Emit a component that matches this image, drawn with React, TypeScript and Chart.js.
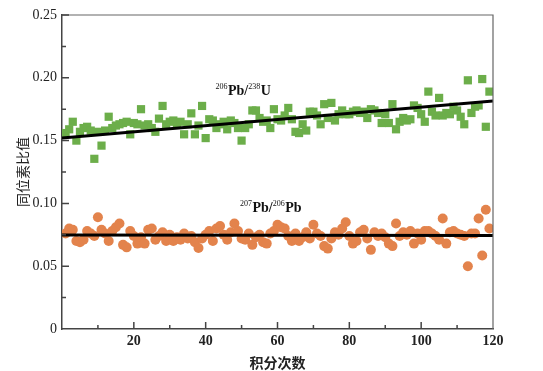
import { useEffect, useRef } from 'react';
import { Chart, registerables } from 'chart.js';
Chart.register(...registerables);

// 206Pb/238U ratio per integration (index 1..119)
const pbU = [
  0.156, 0.159, 0.165, 0.150, 0.157, 0.160, 0.161, 0.158, 0.1355, 0.157,
  0.146, 0.158, 0.169, 0.160, 0.162, 0.163, 0.164, 0.165, 0.155, 0.164,
  0.163, 0.175, 0.162, 0.163, 0.160, 0.157, 0.1675, 0.1776, 0.163, 0.165,
  0.166, 0.164, 0.165, 0.155, 0.163, 0.1717, 0.155, 0.162, 0.1776, 0.152,
  0.167, 0.166, 0.160, 0.163, 0.165, 0.159, 0.166, 0.164, 0.160, 0.150,
  0.160, 0.163, 0.174, 0.174, 0.168, 0.165, 0.166, 0.160, 0.175, 0.167,
  0.166, 0.170, 0.176, 0.167, 0.157, 0.156, 0.163, 0.158, 0.173, 0.173,
  0.170, 0.163, 0.179, 0.168, 0.180, 0.166, 0.171, 0.174, 0.171, 0.171,
  0.173, 0.174, 0.172, 0.173, 0.168, 0.175, 0.174, 0.172, 0.164, 0.171,
  0.164, 0.179, 0.159, 0.165, 0.168, 0.166, 0.167, 0.178, 0.176, 0.171,
  0.165, 0.189, 0.173, 0.170, 0.184, 0.170, 0.172, 0.171, 0.177, 0.174,
  0.169, 0.163, 0.198, 0.172, 0.177, 0.178, 0.199, 0.161, 0.189,
];

// 207Pb/206Pb ratio per integration (index 1..119)
const pbPb = [
  0.076, 0.080, 0.079, 0.070, 0.069, 0.071, 0.078, 0.076, 0.074, 0.089,
  0.079, 0.076, 0.070, 0.078, 0.081, 0.084, 0.067, 0.065, 0.078, 0.074,
  0.068, 0.073, 0.068, 0.079, 0.080, 0.071, 0.074, 0.077, 0.070, 0.075,
  0.070, 0.073, 0.071, 0.076, 0.072, 0.074, 0.069, 0.0645, 0.072, 0.075,
  0.078, 0.070, 0.080, 0.082, 0.075, 0.071, 0.077, 0.084, 0.078, 0.072,
  0.071, 0.076, 0.067, 0.073, 0.075, 0.069, 0.068, 0.076, 0.078, 0.083,
  0.081, 0.080, 0.074, 0.070, 0.076, 0.070, 0.073, 0.077, 0.072, 0.083,
  0.076, 0.074, 0.066, 0.064, 0.072, 0.077, 0.075, 0.080, 0.085, 0.074,
  0.068, 0.070, 0.077, 0.079, 0.072, 0.063, 0.077, 0.074, 0.076, 0.073,
  0.068, 0.066, 0.084, 0.074, 0.077, 0.075, 0.078, 0.068, 0.076, 0.071,
  0.078, 0.078, 0.076, 0.074, 0.071, 0.088, 0.068, 0.077, 0.078, 0.076,
  0.075, 0.074, 0.050, 0.076, 0.076, 0.088, 0.0585, 0.095, 0.080,
];

// fitted trend lines: [x, y] end points
const pbUTrend = [
  { x: 0, y: 0.152 },
  { x: 120, y: 0.1815 },
];
const pbPbTrend = [
  { x: 0, y: 0.0749 },
  { x: 120, y: 0.0745 },
];

const xTicks = [20, 40, 60, 80, 100, 120];
const xMinorTicks = [10, 20, 30, 40, 50, 60, 70, 80, 90, 100, 110];
const yTicks = [0, 0.05, 0.1, 0.15, 0.2, 0.25];
const yMinorTicks = [0.025, 0.05, 0.075, 0.1, 0.125, 0.15, 0.175, 0.2, 0.225];

const GREEN = '#6cae4a';
const ORANGE = '#e3834c';
const AXIS = '#444';
const SERIF = '"Liberation Serif", "DejaVu Serif", serif';
const CJK = '"Noto Sans CJK SC", sans-serif';

const labels = [
  { x: 215.5, y: 95, parts: [['206', true], ['Pb/', false], ['238', true], ['U', false]] },
  { x: 240, y: 211.5, parts: [['207', true], ['Pb/', false], ['206', true], ['Pb', false]] },
];

const decor = {
  id: 'decor',
  afterDatasetsDraw(chart: any) {
    const { ctx, chartArea, scales } = chart;
    const { left, right, top, bottom } = chartArea;
    ctx.save();
    // top and right frame
    ctx.strokeStyle = '#666';
    ctx.lineWidth = 1.2;
    ctx.beginPath();
    ctx.moveTo(left, top);
    ctx.lineTo(right, top);
    ctx.lineTo(right, bottom);
    ctx.stroke();
    // inward ticks
    ctx.strokeStyle = AXIS;
    ctx.lineWidth = 1.5;
    ctx.beginPath();
    for (const v of xMinorTicks) {
      const px = scales.x.getPixelForValue(v);
      const len = v % 20 === 0 ? 7 : 4;
      ctx.moveTo(px, bottom);
      ctx.lineTo(px, bottom - len);
    }
    for (const v of yMinorTicks) {
      const py = scales.y.getPixelForValue(v);
      const major = Math.abs(v / 0.05 - Math.round(v / 0.05)) < 1e-6;
      const len = major ? 7 : 4;
      ctx.moveTo(left, py);
      ctx.lineTo(left + len, py);
    }
    ctx.moveTo(left, top);
    ctx.lineTo(left + 7, top);
    ctx.stroke();
    // annotations with superscripts
    ctx.fillStyle = '#111';
    ctx.textBaseline = 'alphabetic';
    ctx.textAlign = 'left';
    for (const lab of labels) {
      let x = lab.x;
      for (const [t, sup] of lab.parts as any) {
        ctx.font = sup ? `8px ${SERIF}` : `bold 14px ${SERIF}`;
        ctx.fillText(t, x, sup ? lab.y - 6 : lab.y);
        x += ctx.measureText(t).width + (sup ? 0.5 : 0);
      }
    }
    ctx.restore();
  },
};

export default function App() {
  const ref = useRef<HTMLCanvasElement | null>(null);
  useEffect(() => {
    document.body.style.margin = '0';
    const canvas = ref.current;
    if (!canvas) return;
    const chart = new Chart(canvas, {
      type: 'scatter',
      data: {
        datasets: [
          {
            data: pbUTrend,
            showLine: true,
            borderColor: '#000',
            borderWidth: 3,
            pointRadius: 0,
            order: 0,
          },
          {
            data: pbPbTrend,
            showLine: true,
            borderColor: '#000',
            borderWidth: 3,
            pointRadius: 0,
            order: 0,
          },
          {
            data: pbU.map((v, i) => ({ x: i + 1, y: v })),
            pointStyle: 'rect',
            pointRadius: 5.8,
            backgroundColor: GREEN,
            borderWidth: 0,
            order: 2,
          },
          {
            data: pbPb.map((v, i) => ({ x: i + 1, y: v })),
            pointStyle: 'circle',
            pointRadius: 5,
            backgroundColor: ORANGE,
            borderWidth: 0,
            order: 2,
          },
        ],
      },
      plugins: [decor],
      options: {
        animation: false,
        responsive: false,
        maintainAspectRatio: false,
        layout: { padding: { top: 15, right: 50, left: 0, bottom: 0 } },
        plugins: { legend: { display: false }, tooltip: { enabled: false } },
        scales: {
          x: {
            type: 'linear',
            min: 0,
            max: 120,
            afterBuildTicks: (s: any) => {
              s.ticks = [0, ...xTicks].map((v) => ({ value: v }));
            },
            afterFit: (s: any) => {
              s.height = 42;
            },
            ticks: {
              callback: (v: any) => (v === 0 ? '' : String(v)),
              font: { family: SERIF, size: 14, weight: 'bold' },
              color: '#222',
              padding: 4,
              maxRotation: 0,
            },
            grid: { display: false, drawTicks: false },
            border: { display: true, color: AXIS, width: 1.5 },
            title: {
              display: true,
              text: '积分次数',
              font: { family: CJK, size: 14, weight: 'bold' },
              color: '#222',
              padding: { top: 2, bottom: 0 },
            },
          },
          y: {
            type: 'linear',
            min: 0,
            max: 0.25,
            afterBuildTicks: (s: any) => {
              s.ticks = yTicks.map((v) => ({ value: v }));
            },
            afterFit: (s: any) => {
              s.width = 62;
            },
            ticks: {
              callback: (v: any) => (v === 0 ? '0' : Number(v).toFixed(2)),
              font: { family: SERIF, size: 14 },
              color: '#222',
              padding: 5,
            },
            grid: { display: false, drawTicks: false },
            border: { display: true, color: AXIS, width: 1.5 },
            title: {
              display: true,
              text: '同位素比值',
              font: { family: CJK, size: 14 },
              color: '#222',
              padding: { top: 14, bottom: 0 },
            },
          },
        },
      },
    } as any);
    return () => chart.destroy();
  }, []);
  return (
    <div style={{ width: 543, height: 371, background: '#fff' }}>
      <canvas ref={ref} width={543} height={371} style={{ display: 'block' }} />
    </div>
  );
}
